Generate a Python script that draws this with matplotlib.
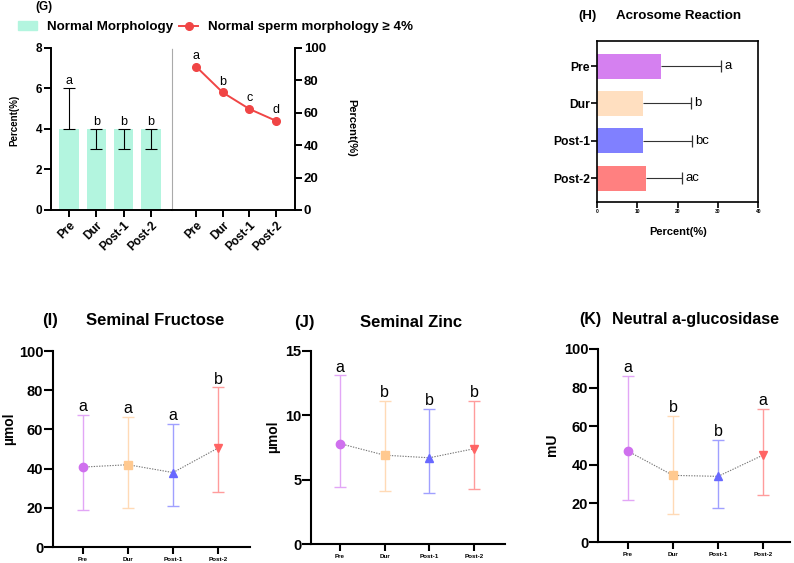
import matplotlib
matplotlib.use('Agg')
import matplotlib.pyplot as plt
from matplotlib.lines import Line2D
from matplotlib.patches import Patch

plt.rcParams['font.family'] = ['Liberation Sans', 'DejaVu Sans']

groups = ['Pre', 'Dur', 'Post-1', 'Post-2']

# (G) normal morphology
morph_median = [4, 4, 4, 4]
morph_lo = [0, 1, 1, 1]
morph_hi = [2, 0, 0, 0]
morph_letters = ['a', 'b', 'b', 'b']
morph_ge4 = [88.5, 72.5, 62.3, 55.0]
morph_ge4_letters = ['a', 'b', 'c', 'd']

# (H) acrosome reaction
acro_mean = [15.8, 11.5, 11.4, 12.2]
acro_sd = [15.0, 11.8, 12.1, 8.9]
acro_letters = ['a', 'b', 'bc', 'ac']

# (I) fructose, (J) zinc, (K) neutral a-glucosidase
fruc_mid = [40.8, 42.0, 38.0, 50.5]
fruc_lo = [19.0, 20.0, 21.0, 28.0]
fruc_hi = [67.5, 66.5, 63.0, 81.5]
fruc_letters = ['a', 'a', 'a', 'b']

zinc_mid = [7.8, 6.9, 6.7, 7.4]
zinc_lo = [4.4, 4.1, 4.0, 4.3]
zinc_hi = [13.1, 11.1, 10.5, 11.1]
zinc_letters = ['a', 'b', 'b', 'b']

gluc_mid = [47.0, 34.5, 34.0, 45.0]
gluc_lo = [22.0, 14.5, 17.5, 24.5]
gluc_hi = [86.0, 65.5, 53.0, 69.0]
gluc_letters = ['a', 'b', 'b', 'a']

group_colors = ['#CF70EE', '#FFC990', '#6868FF', '#FF6464']
err_colors = ['#E2A6F6', '#FFDAB6', '#A0A0FF', '#FF9C9C']
bar_colors_h = ['#D580F0', '#FFDFC0', '#8080FF', '#FF8080']
markers = ['o', 's', '^', 'v']

fig = plt.figure(figsize=(7.94, 5.63), dpi=100)

# ---------------- (G) ----------------
ax_g1 = fig.add_axes([0.0642, 0.627, 0.1524, 0.288])
ax_g2 = fig.add_axes([0.2166, 0.627, 0.1549, 0.288])
x = range(len(groups))

ax_g1.bar(x, morph_median, width=0.7, color='#B3F5DF', zorder=1)
ax_g1.errorbar(x, morph_median, yerr=[morph_lo, morph_hi], fmt='none',
               ecolor='black', elinewidth=0.8, capsize=4, capthick=0.8, zorder=2)
for i, t in enumerate(morph_letters):
    top = morph_median[i] + morph_hi[i]
    ax_g1.text(i, top + 0.05, t, ha='center', va='bottom', fontsize=9)
ax_g1.set_xlim(-0.66, 3.77)
ax_g1.set_ylim(0, 8)
ax_g1.set_yticks([0, 2, 4, 6, 8])
ax_g1.spines[['top', 'right']].set_visible(False)

ax_g2.plot(x, morph_ge4, color='#F04545', marker='o', markersize=5.5, linewidth=1.4)
for i, t in enumerate(morph_ge4_letters):
    ax_g2.text(i, morph_ge4[i] + 3, t, ha='center', va='bottom', fontsize=9)
ax_g2.set_xlim(-0.9, 3.71)
ax_g2.set_ylim(0, 100)
ax_g2.set_yticks([0, 20, 40, 60, 80, 100])
ax_g2.yaxis.tick_right()
ax_g2.spines['top'].set_visible(False)
ax_g2.spines['left'].set_linestyle((0, (1, 1)))
ax_g2.spines['left'].set_color('#AAAAAA')
ax_g2.spines['left'].set_linewidth(0.8)

for ax, ysize in ((ax_g1, 8.5), (ax_g2, 9.5)):
    ax.set_xticks(list(x))
    ax.set_xticklabels(groups, rotation=45, ha='right', rotation_mode='anchor',
                       fontsize=8.5, fontweight='bold')
    for lbl in ax.get_yticklabels():
        lbl.set_fontweight('bold')
        lbl.set_fontsize(ysize)
    ax.tick_params(width=1.4, length=5, pad=1.5)
    for s in ('left', 'right', 'bottom'):
        if s != 'left' or ax is ax_g1:
            ax.spines[s].set_linewidth(1.4)

fig.text(14 / 794, 0.787, 'Percent(%)', rotation=90, ha='center', va='center',
         fontsize=7, fontweight='bold')
fig.text(351 / 794, 0.773, 'Percent(%)', rotation=270, ha='center', va='center',
         fontsize=8, fontweight='bold')
fig.text(0.044, 0.988, '(G)', fontsize=8.5, fontweight='bold', va='center')
handles = [Patch(color='#B3F5DF'),
           Line2D([], [], color='#F04545', marker='o', markersize=5.5, linewidth=1.4)]
fig.legend(handles, ['Normal Morphology', 'Normal sperm morphology \u2265 4%'],
           loc='center left', bbox_to_anchor=(0.0227, 0.952), ncol=2, frameon=False,
           prop={'weight': 'bold', 'size': 9.6}, handlelength=1.4, columnspacing=0.5,
           handletextpad=0.75, borderpad=0, borderaxespad=0)

# ---------------- (H) ----------------
ax_h = fig.add_axes([0.752, 0.641, 0.203, 0.286])
y = list(range(len(groups)))
ax_h.barh(y, acro_mean, height=0.67, color=bar_colors_h)
ends = [m + s for m, s in zip(acro_mean, acro_sd)]
ax_h.errorbar(acro_mean, y, xerr=[[0] * 4, acro_sd], fmt='none', ecolor='#333333',
              elinewidth=0.8, capsize=0)
ax_h.plot(ends, y, linestyle='none', marker='|', markersize=9, markeredgewidth=0.9,
          color='#333333')
for i, t in enumerate(acro_letters):
    ax_h.text(ends[i] + 0.8, i, t, va='center', ha='left', fontsize=9.5)
ax_h.set_xlim(0, 40)
ax_h.set_xticks([0, 10, 20, 30, 40])
ax_h.set_ylim(3.64, -0.67)
ax_h.set_yticks(y)
ax_h.set_yticklabels(groups, fontsize=8.7, fontweight='bold')
for lbl in ax_h.get_xticklabels():
    lbl.set_fontsize(3.5)
    lbl.set_fontweight('bold')
ax_h.set_xlabel('Percent(%)', fontsize=8, fontweight='bold')
ax_h.xaxis.set_label_coords(0.5, -0.155)
ax_h.tick_params(width=1.2, length=4, pad=1)
for s in ax_h.spines.values():
    s.set_linewidth(1.2)
fig.text(578 / 794, 0.972, '(H)', fontsize=9.5, fontweight='bold', va='center')
fig.text(616 / 794, 0.972, 'Acrosome Reaction', fontsize=9.6, fontweight='bold', va='center')


# ---------------- (I), (J), (K) ----------------
def dot_panel(rect, mid, lo, hi, letters, ylim, yticks, xlim, letter_off):
    ax = fig.add_axes(rect)
    xs = list(range(len(groups)))
    ax.plot(xs, mid, linestyle=(0, (1.2, 1.2)), color='#777777', linewidth=0.8, zorder=1)
    for i in xs:
        ax.errorbar(i, mid[i], yerr=[[mid[i] - lo[i]], [hi[i] - mid[i]]], fmt='none',
                    ecolor=err_colors[i], elinewidth=1.0, capsize=4, capthick=1.0, zorder=2)
        ax.plot(i, mid[i], marker=markers[i], color=group_colors[i], markersize=6,
                linestyle='none', zorder=3)
        ax.text(i, hi[i] + letter_off, letters[i], ha='center', va='bottom', fontsize=11.5)
    ax.set_xlim(*xlim)
    ax.set_ylim(*ylim)
    ax.set_yticks(yticks)
    ax.set_xticks(xs)
    ax.set_xticklabels(groups, fontsize=4.5, fontweight='bold')
    for lbl in ax.get_yticklabels():
        lbl.set_fontweight('bold')
        lbl.set_fontsize(10.5)
    ax.spines[['top', 'right']].set_visible(False)
    for s in ('left', 'bottom'):
        ax.spines[s].set_linewidth(1.5)
    ax.tick_params(axis='y', width=1.5, length=6.5, pad=0.5)
    ax.tick_params(axis='x', width=1.5, length=5, pad=2)
    return ax


dot_panel([0.0667, 0.0284, 0.248, 0.348], fruc_mid, fruc_lo, fruc_hi, fruc_letters,
          (0, 100), [0, 20, 40, 60, 80, 100], (-0.67, 3.71), 0.3)
fig.text(9 / 794, 0.238, '\u00b5mol', rotation=90, ha='center', va='center',
         fontsize=10, fontweight='bold')
fig.text(0.053, 0.430, '(I)', fontsize=12, fontweight='bold', va='center')
fig.text(0.108, 0.430, 'Seminal Fructose', fontsize=12, fontweight='bold', va='center')

dot_panel([0.3917, 0.0337, 0.244, 0.343], zinc_mid, zinc_lo, zinc_hi, zinc_letters,
          (0, 15), [0, 5, 10, 15], (-0.65, 3.69), 0.05)
fig.text(273 / 794, 0.225, '\u00b5mol', rotation=90, ha='center', va='center',
         fontsize=10, fontweight='bold')
fig.text(0.370, 0.428, '(J)', fontsize=12, fontweight='bold', va='center')
fig.text(0.453, 0.428, 'Seminal Zinc', fontsize=12, fontweight='bold', va='center')

dot_panel([0.753, 0.0373, 0.242, 0.343], gluc_mid, gluc_lo, gluc_hi, gluc_letters,
          (0, 100), [0, 20, 40, 60, 80, 100], (-0.67, 3.6), 0.3)
fig.text(552 / 794, 0.21, 'mU', rotation=90, ha='center', va='center',
         fontsize=10, fontweight='bold')
fig.text(0.729, 0.433, '(K)', fontsize=11.5, fontweight='bold', va='center')
fig.text(0.771, 0.433, 'Neutral a-glucosidase', fontsize=11.5, fontweight='bold', va='center')

fig.savefig('out.png', dpi=100)
